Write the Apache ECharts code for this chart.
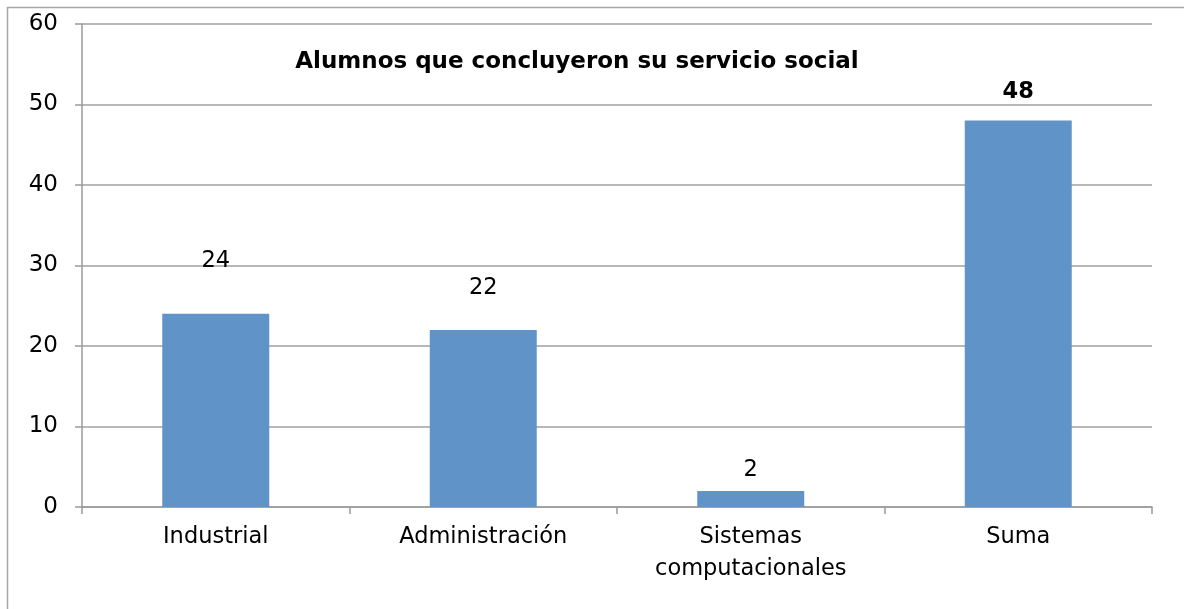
<!DOCTYPE html>
<html><head><meta charset="utf-8">
<script src="https://cdn.jsdelivr.net/npm/echarts@6/dist/echarts.min.js"></script>
<style>html,body{margin:0;padding:0;background:#fff}#c{width:1184px;height:609px}</style>
</head><body><div id="c"></div>
<script>
const categories = ['Industrial', 'Administración', 'Sistemas\ncomputacionales', 'Suma'];
const values = [24, 22, 2, 48];
const labelGap = [41, 30, 9, 17];
const boldLabel = [false, false, false, true];
const titleText = 'Alumnos que concluyeron su servicio social';

const chart = echarts.init(document.getElementById('c'));
const font = 'DejaVu Sans';
chart.setOption({
  animation: false,
  backgroundColor: '#fff',
  graphic: [{type:'rect', shape:{x:7.5,y:7.5,width:1300,height:700}, style:{fill:'none', stroke:'#a6a6a6', lineWidth:1.5}, silent:true}],
  title: {text: titleText, left: 572, top: 46, textAlign: 'center',
    textStyle: {fontFamily: font, fontSize: 23, fontWeight: 'bold', color: '#000'}},
  grid: {left: 82, right: 32, top: 24, bottom: 102},
  xAxis: {type: 'category', data: categories,
    axisLine: {lineStyle: {color: '#9a9a9a', width: 1.5}},
    axisTick: {show: true, length: 7, lineStyle: {color: '#9a9a9a', width: 1.5}},
    axisLabel: {fontFamily: font, fontSize: 22.5, color: '#000', margin: 14, lineHeight: 32, interval: 0}},
  yAxis: {type: 'value', min: 0, max: 60, interval: 10,
    axisLine: {show: true, lineStyle: {color: '#9a9a9a', width: 1.5}},
    axisTick: {show: true, length: 7, lineStyle: {color: '#9a9a9a', width: 1.5}},
    splitLine: {lineStyle: {color: '#a0a0a0', width: 1.5}},
    axisLabel: {fontFamily: font, fontSize: 23, color: '#000', margin: 24}},
  series: [{type: 'bar', barWidth: '40%',
    data: values.map((v, i) => ({value: v, label: {distance: labelGap[i], fontWeight: boldLabel[i] ? 'bold' : 'normal'}})),
    itemStyle: {color: '#6094c8'},
    label: {show: true, position: 'top', fontFamily: font, fontSize: 22.5, color: '#000'}}]
});
</script></body></html>
